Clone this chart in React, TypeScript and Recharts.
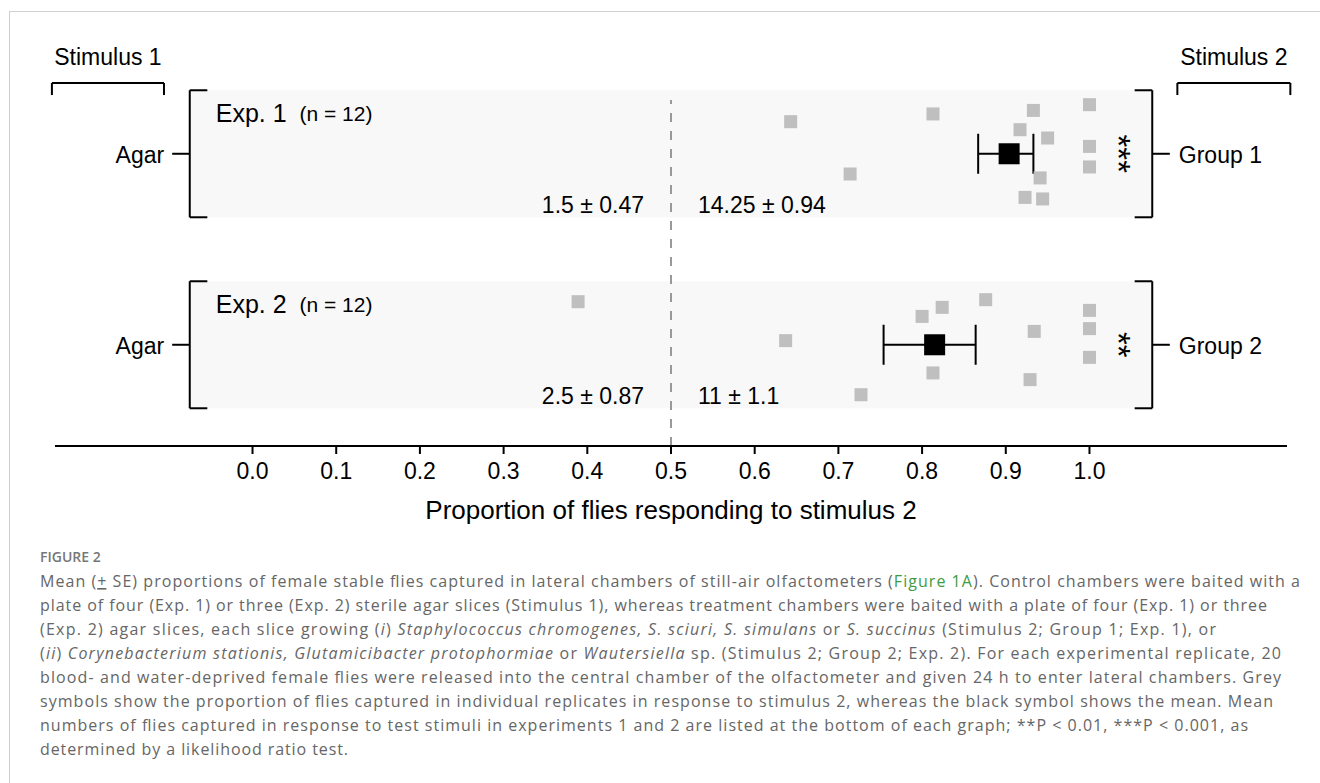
import React from 'react'
import { ScatterChart, Scatter, XAxis, YAxis, ErrorBar, ReferenceArea, ReferenceLine, ReferenceDot } from 'recharts'

// x ticks of the proportion axis
const xTicks = [0, 0.1, 0.2, 0.3, 0.4, 0.5, 0.6, 0.7, 0.8, 0.9, 1.0]

// row position of each experiment on the (hidden) y axis
const rowY = [3, 1]
const expLabels = ['Exp. 1', 'Exp. 2']
const nLabels = ['(n = 12)', '(n = 12)']
const stim1Names = ['Agar', 'Agar']
const stim2Names = ['Group 1', 'Group 2']
const stim1Counts = ['1.5 ± 0.47', '2.5 ± 0.87']
const stim2Counts = ['14.25 ± 0.94', '11 ± 1.1']
const stars = ['***', '**']

// individual replicates (proportion responding to stimulus 2) and vertical jitter
const exp1Props = [0.643, 0.714, 0.813, 0.933, 0.917, 0.95, 1, 1, 1, 0.941, 0.923, 0.944]
const exp1Jitter = [0.336, -0.212, 0.417, 0.454, 0.252, 0.165, 0.514, 0.077, -0.138, -0.253, -0.457, -0.473]
const exp2Props = [0.389, 0.637, 0.727, 0.8, 0.824, 0.876, 1, 1, 1, 0.934, 0.813, 0.929]
const exp2Jitter = [0.451, 0.043, -0.523, 0.297, 0.392, 0.472, 0.36, 0.169, -0.132, 0.14, -0.295, -0.365]

// means and (asymmetric) SE
const meanProps = [0.904, 0.815]
const meanErrLow = [0.037, 0.061]
const meanErrHigh = [0.029, 0.049]

const replicates = [
  ...exp1Props.map((x, i) => ({ x, y: rowY[0] + exp1Jitter[i] })),
  ...exp2Props.map((x, i) => ({ x, y: rowY[1] + exp2Jitter[i] })),
]
const means = meanProps.map((x, i) => ({ x, y: rowY[i], err: [meanErrLow[i], meanErrHigh[i]] }))

const FONT = '"Liberation Sans", Arial, Helvetica, sans-serif'
const CAPTION_FONT = '"Open Sans", "Noto Sans", sans-serif'

const square = (size: number, fill: string) => (p: any) => (
  <rect x={p.cx - size / 2} y={p.cy - size / 2} width={size} height={size} fill={fill} />
)

function at(key: string, x: number, y: number, draw: (cx: number, cy: number) => React.ReactElement) {
  return (
    <ReferenceDot key={key} x={x} y={y} r={1} fill="none" stroke="none" ifOverflow="visible" shape={(p: any) => draw(p.cx, p.cy)} />
  )
}

function seg(key: string, x1: number, y1: number, x2: number, y2: number, extra: any = {}) {
  return (
    <ReferenceLine
      key={key}
      segment={[{ x: x1, y: y1 }, { x: x2, y: y2 }]}
      stroke="#000"
      strokeWidth={2}
      ifOverflow="visible"
      {...extra}
    />
  )
}

// layout of the panel frames, in axis units
const panelL = -0.075
const panelR = 1.075
const half = 0.665
const cap = 0.021
const tick = 0.021
const stimY = 3.741
const stimDrop = 3.615
const stim1X = [-0.2397, -0.1058]
const stim2X = [1.105, 1.24]

function Chart() {
  const txt = { fontFamily: FONT, fill: '#000' }
  const decor: React.ReactElement[] = []

  rowY.forEach((y, i) => {
    decor.push(
      <ReferenceArea key={`bg${i}`} x1={panelL} x2={panelR} y1={y - half} y2={y + half} fill="#f8f8f8" fillOpacity={1} stroke="none" ifOverflow="visible" />
    )
  })
  rowY.forEach((y, i) => {
    decor.push(seg(`lb${i}`, panelL, y - half, panelL, y + half))
    decor.push(seg(`lt${i}`, panelL, y + half, panelL + cap, y + half))
    decor.push(seg(`lbb${i}`, panelL, y - half, panelL + cap, y - half))
    decor.push(seg(`lk${i}`, panelL - tick, y, panelL, y))
    decor.push(seg(`rb${i}`, panelR, y - half, panelR, y + half))
    decor.push(seg(`rt${i}`, panelR - cap, y + half, panelR, y + half))
    decor.push(seg(`rbb${i}`, panelR - cap, y - half, panelR, y - half))
    decor.push(seg(`rk${i}`, panelR, y, panelR + tick, y))
  })
  decor.push(seg('s1', stim1X[0], stimY, stim1X[1], stimY))
  decor.push(seg('s1a', stim1X[0], stimY, stim1X[0], stimDrop))
  decor.push(seg('s1b', stim1X[1], stimY, stim1X[1], stimDrop))
  decor.push(seg('s2', stim2X[0], stimY, stim2X[1], stimY))
  decor.push(seg('s2a', stim2X[0], stimY, stim2X[0], stimDrop))
  decor.push(seg('s2b', stim2X[1], stimY, stim2X[1], stimDrop))
  decor.push(seg('mid', 0.5, -0.06, 0.5, 3.563, { stroke: '#999', strokeDasharray: '9 9' }))

  const labels: React.ReactElement[] = []
  labels.push(
    at('st1', (stim1X[0] + stim1X[1]) / 2, stimY, (cx, cy) => (
      <text x={cx} y={cy - 18} textAnchor="middle" fontSize={23} {...txt}>Stimulus 1</text>
    ))
  )
  labels.push(
    at('st2', (stim2X[0] + stim2X[1]) / 2, stimY, (cx, cy) => (
      <text x={cx} y={cy - 18} textAnchor="middle" fontSize={23} {...txt}>Stimulus 2</text>
    ))
  )
  rowY.forEach((y, i) => {
    labels.push(
      at(`exp${i}`, panelL, y, (cx, cy) => (
        <text x={cx + 26} y={cy - 41} dominantBaseline="central" fontSize={25} {...txt}>
          {expLabels[i]}
          <tspan fontSize={21} dx={7}>{' ' + nLabels[i]}</tspan>
        </text>
      ))
    )
    labels.push(
      at(`s1n${i}`, panelL - tick, y, (cx, cy) => (
        <text x={cx - 8} y={cy + 1} textAnchor="end" dominantBaseline="central" fontSize={23} {...txt}>{stim1Names[i]}</text>
      ))
    )
    labels.push(
      at(`s2n${i}`, panelR + tick, y, (cx, cy) => (
        <text x={cx + 9} y={cy + 1} dominantBaseline="central" fontSize={23} {...txt}>{stim2Names[i]}</text>
      ))
    )
    labels.push(
      at(`c1${i}`, 0.5, y, (cx, cy) => (
        <text x={cx - 27} y={cy + 51} textAnchor="end" dominantBaseline="central" fontSize={23} {...txt}>{stim1Counts[i]}</text>
      ))
    )
    labels.push(
      at(`c2${i}`, 0.5, y, (cx, cy) => (
        <text x={cx + 27} y={cy + 51} dominantBaseline="central" fontSize={23} {...txt}>{stim2Counts[i]}</text>
      ))
    )
    labels.push(
      at(`star${i}`, 1.045, y, (cx, cy) => (
        <text
          x={cx}
          y={cy}
          dy="0.25em"
          transform={`rotate(90 ${cx} ${cy})`}
          textAnchor="middle"
          dominantBaseline="central"
          fontSize={33}
          {...txt}
        >
          {stars[i]}
        </text>
      ))
    )
  })

  return (
    <ScatterChart width={1320} height={546} margin={{ top: 64, right: 33, bottom: 45, left: 55 }}>
      <XAxis
        type="number"
        dataKey="x"
        domain={[-0.236, 1.236]}
        allowDataOverflow
        ticks={xTicks}
        tickFormatter={(v: number) => v.toFixed(1)}
        height={55}
        tickSize={8}
        tickMargin={9}
        axisLine={{ stroke: '#000', strokeWidth: 2 }}
        tickLine={{ stroke: '#000', strokeWidth: 2 }}
        tick={{ fill: '#000', fontSize: 23, fontFamily: FONT }}
        label={{
          value: 'Proportion of flies responding to stimulus 2',
          position: 'bottom',
          offset: 0,
          style: { fill: '#000', fontSize: 26, fontFamily: FONT },
        }}
      />
      <YAxis type="number" dataKey="y" domain={[-0.06, 3.94]} allowDataOverflow hide />
      {decor}
      <Scatter data={replicates} fill="#bfbfbf" shape={square(13, '#bfbfbf')} isAnimationActive={false} />
      <Scatter data={means} fill="#000" shape={square(21, '#000')} isAnimationActive={false}>
        <ErrorBar dataKey="err" direction="x" width={20} stroke="#000" strokeWidth={2} />
      </Scatter>
      {labels}
    </ScatterChart>
  )
}

const captionLines: { end: number; parts: React.ReactNode }[] = [
  {
    end: 1300,
    parts: (
      <>
        {'Mean ('}
        <tspan textDecoration="underline">+</tspan>
        {' SE) proportions of female stable flies captured in lateral chambers of still-air olfactometers ('}
        <tspan fill="#3f9b3f">Figure 1A</tspan>
        {'). Control chambers were baited with a'}
      </>
    ),
  },
  {
    end: 1267,
    parts: 'plate of four (Exp. 1) or three (Exp. 2) sterile agar slices (Stimulus 1), whereas treatment chambers were baited with a plate of four (Exp. 1) or three',
  },
  {
    end: 1216,
    parts: (
      <>
        {'(Exp. 2) agar slices, each slice growing ('}
        <tspan fontStyle="italic">i</tspan>
        {') '}
        <tspan fontStyle="italic">Staphylococcus chromogenes, S. sciuri, S. simulans</tspan>
        {' or '}
        <tspan fontStyle="italic">S. succinus</tspan>
        {' (Stimulus 2; Group 1; Exp. 1), or'}
      </>
    ),
  },
  {
    end: 1281,
    parts: (
      <>
        {'('}
        <tspan fontStyle="italic">ii</tspan>
        {') '}
        <tspan fontStyle="italic">Corynebacterium stationis, Glutamicibacter protophormiae</tspan>
        {' or '}
        <tspan fontStyle="italic">Wautersiella</tspan>
        {' sp. (Stimulus 2; Group 2; Exp. 2). For each experimental replicate, 20'}
      </>
    ),
  },
  {
    end: 1281,
    parts: 'blood- and water-deprived female flies were released into the central chamber of the olfactometer and given 24 h to enter lateral chambers. Grey',
  },
  {
    end: 1273,
    parts: 'symbols show the proportion of flies captured in individual replicates in response to stimulus 2, whereas the black symbol shows the mean. Mean',
  },
  {
    end: 1248,
    parts: 'numbers of flies captured in response to test stimuli in experiments 1 and 2 are listed at the bottom of each graph; **P < 0.01, ***P < 0.001, as',
  },
  { end: 348, parts: 'determined by a likelihood ratio test.' },
]

function Caption() {
  const left = 40
  return (
    <svg width={1320} height={243} style={{ position: 'absolute', left: 0, top: 540 }}>
      <text x={left} y={22} fontFamily={CAPTION_FONT} fontSize={14} fontWeight={600} fill="#777">
        FIGURE 2
      </text>
      {captionLines.map((l, i) => (
        <text
          key={i}
          x={left}
          y={47 + i * 24}
          fontFamily={CAPTION_FONT}
          fontSize={16}
          fill="#666"
          textLength={l.end - left}
          lengthAdjust="spacing"
        >
          {l.parts}
        </text>
      ))}
    </svg>
  )
}

export default function App() {
  return (
    <div style={{ position: 'relative', width: 1320, height: 783, background: '#fff', overflow: 'hidden', fontFamily: FONT }}>
      <style>{'body{margin:0}'}</style>
      <div style={{ position: 'absolute', left: 9, top: 11, width: 1311, height: 772, borderTop: '1px solid #d0d0d0', borderLeft: '1px solid #d0d0d0' }} />
      <div style={{ position: 'absolute', left: 0, top: 0 }}>
        <Chart />
      </div>
      <Caption />
    </div>
  )
}
